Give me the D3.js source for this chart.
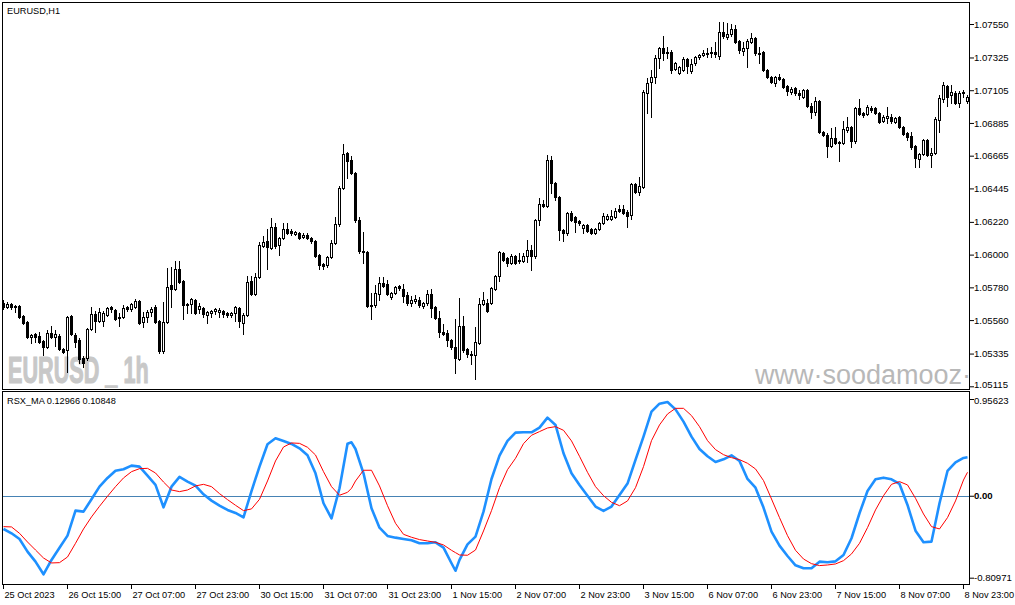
<!DOCTYPE html>
<html><head><meta charset="utf-8">
<script src="https://cdn.jsdelivr.net/npm/d3@7"></script>
<style>
html,body{margin:0;padding:0;background:#fff;overflow:hidden;}
svg{display:block;}
text{font-family:"Liberation Sans",Arial,sans-serif;}
</style></head><body>
<svg id="c" width="1015" height="605"></svg>
<script>
const opens=[1.05675,1.05648,1.05668,1.05654,1.05654,1.05587,1.05547,1.05446,1.05466,1.05453,
1.05419,1.05379,1.05473,1.05446,1.05453,1.05365,1.05359,1.05587,1.05460,1.05426,
1.05305,1.05305,1.05500,1.05601,1.05554,1.05554,1.05594,1.05648,1.05628,1.05580,
1.05580,1.05648,1.05634,1.05648,1.05688,1.05547,1.05580,1.05614,1.05648,1.05554,
1.05352,1.05547,1.05795,1.05768,1.05903,1.05822,1.05668,1.05668,1.05695,1.05634,
1.05641,1.05594,1.05607,1.05621,1.05614,1.05621,1.05607,1.05594,1.05607,1.05641,
1.05540,1.05594,1.05822,1.05735,1.05849,1.06058,1.06091,1.06044,1.06185,1.06064,
1.06111,1.06172,1.06158,1.06138,1.06145,1.06118,1.06132,1.06111,1.06091,1.05997,
1.05937,1.05930,1.05984,1.06078,1.06205,1.06447,1.06683,1.06636,1.06548,1.06232,
1.06024,1.06017,1.05654,1.05661,1.05735,1.05809,1.05802,1.05715,1.05742,1.05789,
1.05768,1.05728,1.05675,1.05688,1.05695,1.05654,1.05675,1.05735,1.05648,1.05574,
1.05480,1.05473,1.05426,1.05379,1.05298,1.05520,1.05365,1.05332,1.05325,1.05406,
1.05668,1.05675,1.05675,1.05768,1.05856,1.06011,1.05977,1.05944,1.05990,1.05964,
1.05957,1.05990,1.06031,1.05990,1.06232,1.06340,1.06326,1.06636,1.06481,1.06387,
1.06165,1.06145,1.06279,1.06253,1.06226,1.06179,1.06199,1.06172,1.06145,1.06172,
1.06212,1.06239,1.06239,1.06253,1.06306,1.06306,1.06286,1.06266,1.06474,1.06421,
1.06454,1.07086,1.07160,1.07193,1.07321,1.07388,1.07362,1.07362,1.07247,1.07220,
1.07241,1.07315,1.07234,1.07288,1.07328,1.07341,1.07355,1.07355,1.07362,1.07335,
1.07496,1.07462,1.07482,1.07516,1.07435,1.07368,1.07388,1.07429,1.07456,1.07355,
1.07362,1.07241,1.07193,1.07153,1.07193,1.07180,1.07133,1.07093,1.07120,1.07086,
1.07059,1.07106,1.06998,1.06958,1.07032,1.06824,1.06804,1.06730,1.06784,1.06757,
1.06750,1.06837,1.06858,1.06763,1.06985,1.06951,1.06945,1.06985,1.06985,1.06951,
1.06898,1.06918,1.06925,1.06891,1.06925,1.06858,1.06817,1.06797,1.06730,1.06642,
1.06676,1.06770,1.06669,1.06683,1.06905,1.07046,1.07133,1.07072,1.07086,1.07019,
1.07093,1.07032];
const highs=[1.05695,1.05681,1.05675,1.05661,1.05661,1.05594,1.05554,1.05466,1.05473,1.05480,
1.05426,1.05493,1.05520,1.05493,1.05466,1.05372,1.05587,1.05594,1.05473,1.05439,
1.05318,1.05507,1.05648,1.05621,1.05641,1.05621,1.05648,1.05654,1.05634,1.05607,
1.05661,1.05654,1.05675,1.05701,1.05695,1.05614,1.05628,1.05648,1.05661,1.05560,
1.05681,1.05910,1.05916,1.05957,1.05957,1.05829,1.05675,1.05708,1.05701,1.05675,
1.05648,1.05621,1.05628,1.05641,1.05641,1.05628,1.05614,1.05614,1.05654,1.05648,
1.05607,1.05856,1.05856,1.05876,1.06085,1.06125,1.06172,1.06246,1.06212,1.06118,
1.06212,1.06212,1.06172,1.06158,1.06152,1.06145,1.06145,1.06118,1.06098,1.06004,
1.05944,1.05990,1.06098,1.06253,1.06461,1.06743,1.06689,1.06662,1.06555,1.06253,
1.06152,1.06024,1.05742,1.05795,1.05849,1.05849,1.05829,1.05748,1.05789,1.05795,
1.05802,1.05748,1.05722,1.05728,1.05715,1.05681,1.05762,1.05768,1.05654,1.05621,
1.05533,1.05493,1.05432,1.05567,1.05708,1.05587,1.05372,1.05352,1.05513,1.05708,
1.05748,1.05701,1.05782,1.05863,1.06024,1.06017,1.05984,1.06004,1.05997,1.06011,
1.06011,1.06098,1.06064,1.06239,1.06380,1.06367,1.06669,1.06662,1.06488,1.06394,
1.06172,1.06286,1.06293,1.06259,1.06232,1.06205,1.06205,1.06179,1.06179,1.06219,
1.06279,1.06273,1.06300,1.06313,1.06333,1.06333,1.06300,1.06481,1.06481,1.06521,
1.07106,1.07187,1.07241,1.07341,1.07395,1.07469,1.07395,1.07375,1.07294,1.07267,
1.07328,1.07321,1.07315,1.07335,1.07348,1.07375,1.07388,1.07395,1.07429,1.07563,
1.07563,1.07556,1.07550,1.07543,1.07442,1.07429,1.07449,1.07489,1.07462,1.07395,
1.07368,1.07247,1.07200,1.07200,1.07214,1.07187,1.07140,1.07126,1.07126,1.07106,
1.07113,1.07113,1.07019,1.07059,1.07039,1.06831,1.06817,1.06851,1.06857,1.06764,
1.06898,1.06925,1.06864,1.06992,1.07046,1.06958,1.07005,1.06998,1.06992,1.06958,
1.06938,1.06992,1.06945,1.06925,1.06931,1.06864,1.06824,1.06824,1.06736,1.06683,
1.06777,1.06777,1.06716,1.06925,1.07072,1.07160,1.07140,1.07140,1.07099,1.07099,
1.07106,1.07072];
const lows=[1.05634,1.05641,1.05634,1.05614,1.05574,1.05533,1.05439,1.05406,1.05412,1.05406,
1.05325,1.05372,1.05439,1.05385,1.05359,1.05338,1.05211,1.05460,1.05379,1.05271,
1.05244,1.05291,1.05493,1.05480,1.05547,1.05520,1.05587,1.05614,1.05560,1.05520,
1.05574,1.05621,1.05621,1.05641,1.05533,1.05513,1.05547,1.05587,1.05540,1.05338,
1.05338,1.05540,1.05648,1.05762,1.05809,1.05567,1.05607,1.05607,1.05601,1.05607,
1.05580,1.05540,1.05580,1.05601,1.05580,1.05580,1.05580,1.05580,1.05554,1.05513,
1.05466,1.05587,1.05728,1.05728,1.05843,1.06051,1.05903,1.06037,1.06044,1.05997,
1.06105,1.06138,1.06132,1.06132,1.06105,1.06111,1.06105,1.06078,1.05984,1.05903,
1.05903,1.05916,1.05977,1.06071,1.06192,1.06441,1.06515,1.06542,1.06219,1.06011,
1.05944,1.05648,1.05567,1.05648,1.05695,1.05782,1.05728,1.05701,1.05735,1.05762,
1.05681,1.05661,1.05654,1.05675,1.05648,1.05641,1.05661,1.05580,1.05567,1.05446,
1.05460,1.05385,1.05365,1.05204,1.05291,1.05345,1.05312,1.05264,1.05164,1.05399,
1.05661,1.05614,1.05668,1.05762,1.05822,1.05957,1.05923,1.05937,1.05937,1.05944,
1.05950,1.05950,1.05896,1.05977,1.06199,1.06320,1.06320,1.06414,1.06367,1.06098,
1.06091,1.06132,1.06226,1.06152,1.06199,1.06145,1.06152,1.06138,1.06138,1.06165,
1.06205,1.06232,1.06232,1.06246,1.06286,1.06273,1.06185,1.06239,1.06414,1.06401,
1.06447,1.06951,1.06925,1.07153,1.07254,1.07308,1.07321,1.07220,1.07241,1.07214,
1.07234,1.07220,1.07220,1.07274,1.07315,1.07335,1.07328,1.07328,1.07328,1.07315,
1.07456,1.07449,1.07469,1.07422,1.07355,1.07341,1.07261,1.07422,1.07341,1.07288,
1.07234,1.07187,1.07153,1.07133,1.07173,1.07120,1.07072,1.07079,1.07072,1.07046,
1.07052,1.06992,1.06918,1.06938,1.06817,1.06797,1.06656,1.06723,1.06743,1.06629,
1.06743,1.06824,1.06723,1.06750,1.06938,1.06925,1.06938,1.06958,1.06945,1.06884,
1.06891,1.06884,1.06884,1.06884,1.06851,1.06804,1.06770,1.06710,1.06589,1.06589,
1.06669,1.06662,1.06589,1.06676,1.06824,1.07025,1.06998,1.07019,1.07012,1.06992,
1.07059,1.07019];
const closes=[1.05648,1.05668,1.05648,1.05648,1.05580,1.05540,1.05446,1.05460,1.05446,1.05412,
1.05379,1.05473,1.05446,1.05466,1.05365,1.05345,1.05580,1.05466,1.05412,1.05298,
1.05271,1.05500,1.05601,1.05554,1.05614,1.05607,1.05641,1.05634,1.05567,1.05574,
1.05641,1.05634,1.05668,1.05688,1.05542,1.05580,1.05614,1.05634,1.05547,1.05352,
1.05547,1.05782,1.05768,1.05903,1.05816,1.05661,1.05661,1.05701,1.05607,1.05654,
1.05601,1.05614,1.05619,1.05634,1.05628,1.05601,1.05594,1.05607,1.05648,1.05554,
1.05594,1.05816,1.05735,1.05849,1.06064,1.06085,1.06051,1.06185,1.06058,1.06111,
1.06172,1.06145,1.06145,1.06152,1.06111,1.06132,1.06111,1.06091,1.05990,1.05930,
1.05923,1.05984,1.06078,1.06205,1.06447,1.06676,1.06629,1.06548,1.06232,1.06024,
1.06017,1.05654,1.05661,1.05742,1.05809,1.05789,1.05735,1.05742,1.05782,1.05775,
1.05722,1.05675,1.05695,1.05701,1.05661,1.05675,1.05735,1.05641,1.05574,1.05480,
1.05466,1.05426,1.05379,1.05305,1.05520,1.05359,1.05332,1.05325,1.05412,1.05668,
1.05695,1.05621,1.05775,1.05856,1.06017,1.05964,1.05944,1.05990,1.05944,1.05957,
1.05990,1.06031,1.05990,1.06232,1.06340,1.06326,1.06636,1.06481,1.06387,1.06165,
1.06145,1.06279,1.06232,1.06219,1.06212,1.06199,1.06158,1.06145,1.06172,1.06212,
1.06259,1.06259,1.06259,1.06293,1.06293,1.06279,1.06259,1.06474,1.06421,1.06461,
1.07093,1.07153,1.07193,1.07321,1.07388,1.07355,1.07355,1.07241,1.07288,1.07261,
1.07315,1.07267,1.07281,1.07328,1.07341,1.07355,1.07348,1.07362,1.07348,1.07496,
1.07469,1.07482,1.07516,1.07429,1.07375,1.07388,1.07435,1.07456,1.07355,1.07348,
1.07241,1.07193,1.07160,1.07193,1.07180,1.07126,1.07099,1.07113,1.07086,1.07072,
1.07106,1.06998,1.06958,1.07032,1.06824,1.06804,1.06730,1.06784,1.06750,1.06750,
1.06844,1.06858,1.06763,1.06985,1.06945,1.06938,1.06992,1.06972,1.06951,1.06891,
1.06925,1.06931,1.06898,1.06918,1.06858,1.06811,1.06790,1.06723,1.06649,1.06676,
1.06770,1.06669,1.06683,1.06911,1.07052,1.07140,1.07059,1.07093,1.07019,1.07086,
1.07086,1.07059];

const timeLabels=["25 Oct 2023","26 Oct 15:00","27 Oct 07:00","27 Oct 23:00","30 Oct 15:00","31 Oct 07:00","31 Oct 23:00","1 Nov 15:00","2 Nov 07:00","2 Nov 23:00","3 Nov 15:00","6 Nov 07:00","6 Nov 23:00","7 Nov 15:00","8 Nov 07:00","8 Nov 23:00"];
const timeLabelBars=[0,16,32,48,64,80,96,112,128,144,160,176,192,208,224,240];
const priceTicks=[1.07550,1.07325,1.07105,1.06885,1.06665,1.06445,1.06220,1.06000,1.05780,1.05560,1.05335,1.05115];
const rsxTicks=[0.95623,0,-0.80971];

const rsxBars=[0,2,4,6,8,10,12,14,16,18,
20,22,24,26,28,30,32,34,36,38,
40,42,44,46,48,50,52,54,56,58,
60,62,64,66,68,70,72,74,76,78,
80,82,84,86,87,88,90,92,94,96,
98,100,102,104,106,108,110,112,113,114,
116,118,120,122,124,126,128,130,132,134,
136,138,140,142,144,146,148,150,152,154,
156,158,160,162,164,166,168,170,172,174,
176,178,180,182,184,186,188,190,192,194,
196,198,200,202,204,206,208,210,212,214,
216,218,220,222,224,226,228,230,232,234,
236,238,240,241];
const rsxMain=[-0.328,-0.371,-0.427,-0.552,-0.651,-0.776,-0.634,-0.513,-0.394,-0.147,
-0.157,-0.035,0.090,0.176,0.248,0.262,0.298,0.288,0.199,0.107,
-0.114,0.090,0.186,0.140,0.100,0.014,-0.048,-0.098,-0.140,-0.170,
-0.213,0.047,0.288,0.509,0.568,0.542,0.512,0.469,0.400,0.222,
-0.074,-0.223,0.074,0.515,0.528,0.462,0.222,-0.124,-0.315,-0.397,
-0.414,-0.427,-0.440,-0.470,-0.470,-0.460,-0.513,-0.667,-0.741,-0.634,
-0.480,-0.404,-0.157,0.166,0.397,0.542,0.624,0.627,0.627,0.673,
0.772,0.700,0.420,0.222,0.107,0.001,-0.107,-0.150,-0.107,0.008,
0.120,0.354,0.584,0.831,0.910,0.927,0.854,0.733,0.584,0.462,
0.390,0.334,0.360,0.400,0.344,0.166,0.080,-0.117,-0.354,-0.493,
-0.595,-0.687,-0.717,-0.717,-0.651,-0.657,-0.648,-0.585,-0.420,-0.173,
0.047,0.163,0.179,0.163,0.117,-0.091,-0.345,-0.460,-0.453,-0.074,
0.245,0.331,0.374,0.380];
const rsxSignal=[-0.305,-0.308,-0.371,-0.457,-0.536,-0.615,-0.664,-0.661,-0.605,-0.470,
-0.328,-0.209,-0.104,-0.005,0.090,0.176,0.238,0.268,0.271,0.225,
0.136,0.057,0.041,0.057,0.097,0.113,0.090,0.021,-0.038,-0.094,
-0.147,-0.130,-0.035,0.146,0.344,0.482,0.522,0.518,0.479,0.403,
0.238,0.090,0.005,0.034,0.074,0.146,0.252,0.252,0.097,-0.098,
-0.272,-0.381,-0.410,-0.433,-0.447,-0.460,-0.486,-0.539,-0.562,-0.585,
-0.588,-0.536,-0.348,-0.147,0.080,0.258,0.370,0.515,0.598,0.634,
0.670,0.683,0.647,0.542,0.390,0.232,0.090,0.001,-0.065,-0.098,
-0.051,0.080,0.288,0.545,0.700,0.808,0.864,0.864,0.792,0.683,
0.545,0.456,0.406,0.377,0.357,0.321,0.265,0.150,-0.032,-0.216,
-0.394,-0.539,-0.625,-0.671,-0.690,-0.684,-0.674,-0.641,-0.575,-0.470,
-0.315,-0.140,0.001,0.113,0.140,0.107,-0.025,-0.180,-0.305,-0.328,
-0.216,-0.051,0.156,0.232];

const svg=d3.select('#c');
const L=2,R=969,mT=2,mB=389,iT=391,iB=584;
const x=d3.scaleLinear().domain([0,opens.length-1]).range([3,3+4*(opens.length-1)]);
const yP=d3.scaleLinear().domain([1.05115,1.07550]).range([386.3,24]);
const yR=d3.scaleLinear().domain([-0.80971,0.95623]).range([577.7,399]);

const defs=svg.append('defs');
defs.append('clipPath').attr('id','cm').append('rect').attr('x',L+1).attr('y',mT+1).attr('width',R-L-1).attr('height',mB-mT-1);
defs.append('clipPath').attr('id','ci').append('rect').attr('x',L+1).attr('y',iT+1).attr('width',R-L-1).attr('height',iB-iT-1);

svg.append('rect').attr('width',1015).attr('height',605).attr('fill','#fff');

// watermarks
const wm=svg.append('g').attr('clip-path','url(#cm)');
wm.append('text').attr('transform','translate(8,383) scale(0.585,1)')
  .attr('font-size',37).attr('font-weight','bold').attr('fill','#c8c8c8')
  .attr('stroke','#c8c8c8').attr('stroke-width',1.2).text('EURUSD _ 1h');
wm.append('text').attr('x',755).attr('y',384).attr('font-size',27).attr('fill','#b8b8b8').text('www·soodamooz·com');

// candles
const bars=d3.range(opens.length);
const cg=svg.append('g').attr('clip-path','url(#cm)').attr('shape-rendering','crispEdges');
cg.selectAll('line.w').data(bars).join('line').attr('class','w')
  .attr('x1',i=>x(i)+0.5).attr('x2',i=>x(i)+0.5)
  .attr('y1',i=>Math.round(yP(highs[i]))).attr('y2',i=>Math.round(yP(lows[i]))+1)
  .attr('stroke','#000').attr('stroke-width',1);
cg.selectAll('rect.b').data(bars).join('rect').attr('class','b')
  .attr('x',i=>x(i)-0.5).attr('width',2)
  .attr('y',i=>Math.round(yP(Math.max(opens[i],closes[i])))+0.5)
  .attr('height',i=>Math.max(1,Math.round(yP(Math.min(opens[i],closes[i])))-Math.round(yP(Math.max(opens[i],closes[i])))))
  .attr('fill',i=>closes[i]>=opens[i]?'#fff':'#000')
  .attr('stroke','#000').attr('stroke-width',1);

// indicator
const ig=svg.append('g').attr('clip-path','url(#ci)');
ig.append('line').attr('x1',L).attr('x2',R).attr('y1',Math.round(yR(0))+0.5).attr('y2',Math.round(yR(0))+0.5)
  .attr('stroke','#4682B4').attr('stroke-width',1);
const ln=arr=>d3.line().x((d,k)=>x(rsxBars[k])+0.5).y(d=>yR(d))(arr);
ig.append('path').attr('d',ln(rsxMain)).attr('fill','none').attr('stroke','#1E90FF').attr('stroke-width',2.6).attr('stroke-linejoin','round');
ig.append('path').attr('d',ln(rsxSignal)).attr('fill','none').attr('stroke','#FF0000').attr('stroke-width',1);

// frames
svg.append('rect').attr('x',L+0.5).attr('y',mT+0.5).attr('width',R-L).attr('height',mB-mT).attr('fill','none').attr('stroke','#000');
svg.append('rect').attr('x',L+0.5).attr('y',iT+0.5).attr('width',R-L).attr('height',iB-iT).attr('fill','none').attr('stroke','#000');

// axes
const pa=svg.append('g').attr('transform',`translate(${R+1},0)`)
  .call(d3.axisRight(yP).tickValues(priceTicks).tickFormat(d=>d.toFixed(5)).tickSize(4).tickPadding(0));
const ra=svg.append('g').attr('transform',`translate(${R+1},0)`)
  .call(d3.axisRight(yR).tickValues(rsxTicks).tickFormat(d=>d===0?'0.00':d.toFixed(5)).tickSize(4).tickPadding(0));
const ta=svg.append('g').attr('transform',`translate(0,${iB+1})`)
  .call(d3.axisBottom(x).tickValues(timeLabelBars).tickFormat((d,k)=>timeLabels[k]).tickSize(4).tickPadding(2));
[pa,ra,ta].forEach(a=>{a.select('.domain').remove();a.selectAll('line').attr('stroke','#000');
  a.selectAll('text').attr('fill','#000').attr('font-family','"Liberation Sans",Arial,sans-serif');});
pa.selectAll('text').attr('font-size',9.6);
pa.selectAll('.tick').filter(d=>d===1.05115).select('text').attr('dy','0.1em');
ra.selectAll('text').attr('font-size',9.6).attr('font-weight',d=>d===0?'bold':'normal');
ra.selectAll('.tick').filter(d=>d===0.95623).select('text').attr('dy','0.45em');
ta.selectAll('text').attr('font-size',9.2).attr('text-anchor','start').attr('x',1);

// titles
svg.append('text').attr('x',7).attr('y',14).attr('font-size',9.2).attr('fill','#000').text('EURUSD,H1');
svg.append('text').attr('x',7).attr('y',403.5).attr('font-size',9.2).attr('fill','#000').text('RSX_MA 0.12966 0.10848');
</script>
</body></html>
